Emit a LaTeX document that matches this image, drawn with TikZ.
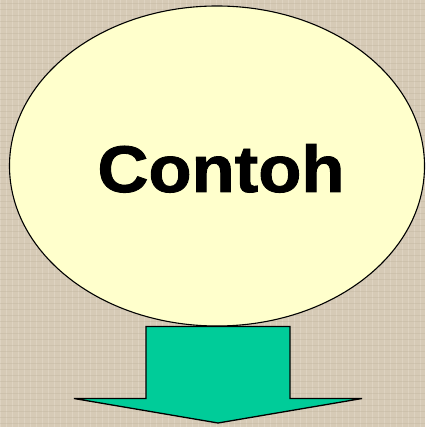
\documentclass[tikz,border=0pt]{standalone}
\usepackage{fontspec}
\setmainfont{Liberation Sans}
\newfontfamily\heavyfont[FakeBold=1.3]{Liberation Sans}
\definecolor{bgbeige}{RGB}{214,202,182}
\definecolor{bglight}{RGB}{230,221,205}
\definecolor{bgdark}{RGB}{190,177,156}
\definecolor{ellfill}{RGB}{255,255,204}
\definecolor{arrowfill}{RGB}{0,204,153}
\tikzset{
  bubble/.style={draw=black, line width=1.1pt, fill=ellfill},
  label/.style={inner sep=0pt, font=\heavyfont\fontsize{66}{70}\selectfont\bfseries},
  bigarrow/.style={draw=black, line width=1.3pt, fill=arrowfill, line join=miter}
}
\begin{document}
\begin{tikzpicture}[x=1pt,y=-1pt]
\useasboundingbox (0,0) rectangle (425,427);
\clip (0,0) rectangle (425,427);
\fill[bgbeige] (0,0) rectangle (425,427);
% faint texture
\foreach \i in {0,6,...,425} {
  \draw[bglight, line width=0.8pt, opacity=0.5] (\i,0) -- (\i,427);
}
\foreach \j in {3,9,...,427} {
  \draw[bgdark, line width=0.6pt, opacity=0.35] (0,\j) -- (425,\j);
}
\coordinate (ellc) at (217,166);
\draw[bubble] (ellc) ellipse [x radius=207.5, y radius=160];
\node[label, anchor=base] (txt) at (221,192) {\scalebox{1.07}[1]{Contoh}};
\coordinate (tip) at (218,423);
\draw[bigarrow] (146,326.5) -- (290,326.5) -- (290,398.5) -- (362,398.5)
  -- (tip) -- (74,398.5) -- (146,398.5) -- cycle;
\end{tikzpicture}
\end{document}
